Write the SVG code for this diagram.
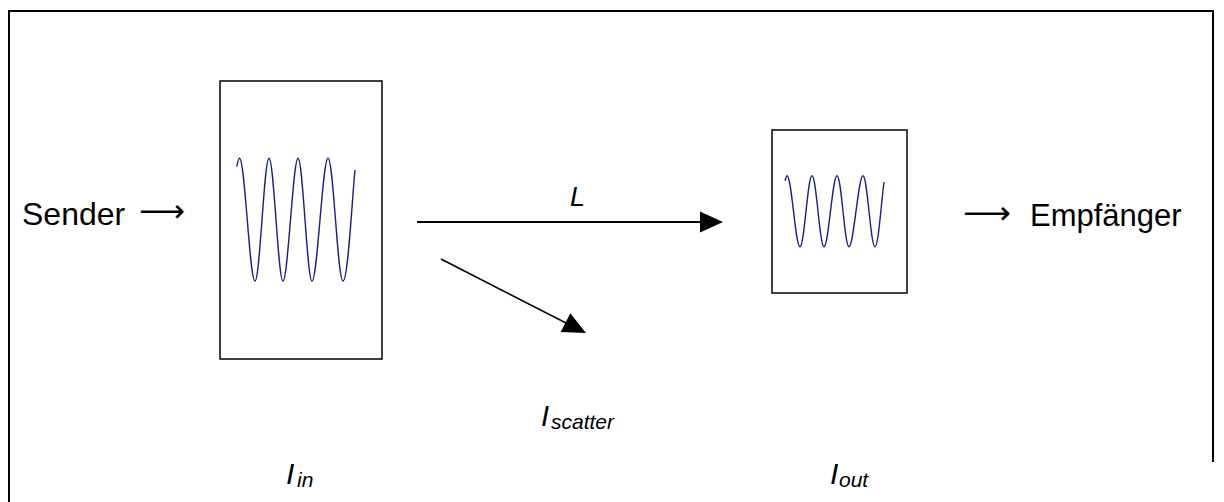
<svg xmlns="http://www.w3.org/2000/svg" width="1224" height="502" viewBox="0 0 1224 502">
  <style>
    .t { font-family: "Liberation Sans", Arial, sans-serif; fill: #000; }
    .it { font-style: italic; }
    .arr { font-family: "DejaVu Sans", sans-serif; fill: #000; }
    .wave { fill: none; stroke: #1c1c8a; stroke-width: 1.4; }
    .box { fill: #fff; stroke: #000; stroke-width: 1.5; }
  </style>
  <rect width="1224" height="502" fill="#fff"/>
  <path d="M9,502 V11 H1213 V462" fill="none" stroke="#000" stroke-width="2"/>

  <g id="sender">
    <text class="t" x="22" y="225" font-size="32">Sender</text>
    <text class="arr" x="139" y="222" font-size="32" textLength="46" lengthAdjust="spacingAndGlyphs">⟶</text>
  </g>

  <g id="input-signal">
    <rect class="box" x="220" y="81" width="162" height="278"/>
    <path class="wave" d="M236.7,166.7 C237.5,163 238.5,158.3 239.5,158.3 C245,158.3 249.5,281 255,281 C260,281 264,158.3 269,158.3 C274,158.3 278,281 283,281 C288,281 293,158.3 298,158.3 C303,158.3 307,281 312,281 C317.5,281 322.5,158.3 328,158.3 C333.5,158.3 337.5,281 343,281 C348,281 352,200 355,170"/>
    <text class="t it" x="286" y="484" font-size="30">I</text>
    <text class="t it" x="297" y="487" font-size="21">in</text>
  </g>

  <g id="output-signal">
    <rect class="box" x="772" y="130" width="135" height="163"/>
    <path class="wave" d="M785,180.7 C785.7,178 786.3,175.7 787,175.7 C791.7,175.7 795.3,246.7 800,246.7 C804.4,246.7 807.6,175.7 812,175.7 C816.4,175.7 819.6,246.7 824,246.7 C828.6,246.7 832.4,175.7 837,175.7 C841.6,175.7 844.4,246.7 849,246.7 C853.7,246.7 858.3,175.7 863,175.7 C867.4,175.7 870.6,246.7 875,246.7 C878.5,246.7 881.5,200 884,182"/>
    <text class="t it" x="830" y="484" font-size="30">I</text>
    <text class="t it" x="839" y="487" font-size="21">out</text>
  </g>

  <g id="receiver">
    <text class="arr" x="963" y="224" font-size="32" textLength="48" lengthAdjust="spacingAndGlyphs">⟶</text>
    <text class="t" x="1030" y="226" font-size="31">Empfänger</text>
  </g>

  <g id="scatter-label">
    <text class="t it" x="541" y="426" font-size="29">I</text>
    <text class="t it" x="551" y="429" font-size="21">scatter</text>
  </g>

  <g id="connectors">
    <line x1="417" y1="222" x2="702" y2="222" stroke="#000" stroke-width="2"/>
    <polygon points="700,211.5 723,222 700,232.5" fill="#000"/>
    <text class="t it" x="570" y="206" font-size="27">L</text>
    <line x1="441" y1="259" x2="568" y2="324" stroke="#000" stroke-width="1.6"/>
    <polygon points="586,333 560.7,331.9 570.3,313.2" fill="#000"/>
  </g>
</svg>
